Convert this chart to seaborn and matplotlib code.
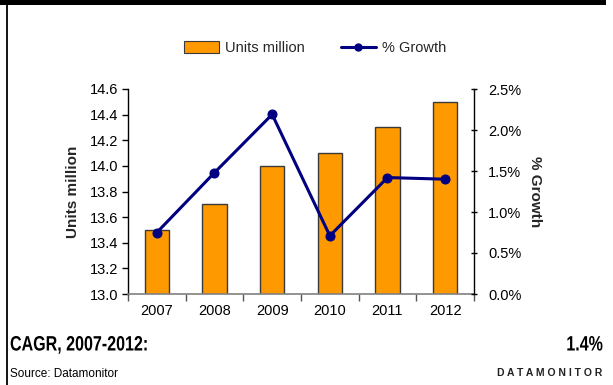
import matplotlib
matplotlib.use("Agg")
import matplotlib.pyplot as plt
from matplotlib.patches import Rectangle, Patch
from matplotlib.lines import Line2D
from matplotlib.patheffects import AbstractPathEffect
from matplotlib.transforms import Affine2D
from matplotlib.ticker import FuncFormatter, FixedLocator, NullFormatter
import seaborn as sns
import pandas as pd

years = ["2007", "2008", "2009", "2010", "2011", "2012"]
units_million = [13.5, 13.7, 14.0, 14.1, 14.3, 14.5]
growth_pct = [0.75, 1.48, 2.19, 0.71, 1.42, 1.40]
cagr_label = "1.4%"

sns.set_theme(style="white")
plt.rcParams["font.family"] = ["Liberation Sans", "DejaVu Sans"]

W, H = 613, 385
DPI = 100
fig = plt.figure(figsize=(W / DPI, H / DPI), dpi=DPI)
fig.patch.set_facecolor("white")


class Narrow(AbstractPathEffect):
    """Compress glyph outlines horizontally about a fixed x (display px)."""

    def __init__(self, sx, x0):
        super().__init__()
        self.sx = sx
        self.x0 = x0

    def draw_path(self, renderer, gc, tpath, affine, rgbFace=None):
        squeeze = Affine2D().translate(-self.x0, 0).scale(self.sx, 1).translate(self.x0, 0)
        renderer.draw_path(gc, tpath, affine + squeeze, rgbFace)


ax = fig.add_axes([128 / W, 1 - 294 / H, (474 - 128) / W, (294 - 89) / H])
ax.set_facecolor("white")

df = pd.DataFrame({"year": years, "units": units_million, "growth": growth_pct})

orange = "#FF9900"
navy = "#000080"
FS = 10.5

sns.barplot(data=df, x="year", y="units", order=years, color=orange,
            width=0.42, edgecolor="#3a3a3a", linewidth=1.0, saturation=1,
            ax=ax)
ax.set_ylim(13.0, 14.6)
ax.set_xlim(-0.5, 5.5)
ax.set_yticks([13.0 + 0.2 * i for i in range(9)])
ax.yaxis.set_major_formatter(FuncFormatter(lambda v, p: f"{v:.1f}"))
ax.set_xlabel("")
ax.set_ylabel("Units million", fontsize=11, fontweight="bold", labelpad=7)

# category labels at centres, tick marks at category boundaries
ax.tick_params(axis="x", which="major", length=0, labelsize=FS, pad=7, colors="black")
ax.xaxis.set_minor_locator(FixedLocator([i - 0.5 for i in range(7)]))
ax.xaxis.set_minor_formatter(NullFormatter())
ax.tick_params(axis="x", which="minor", length=5, width=1, color="#555555",
               direction="out", bottom=True)
ax.tick_params(axis="y", length=4, width=1, direction="out", left=True,
               labelsize=FS, colors="black", pad=3)

for s in ["top", "right"]:
    ax.spines[s].set_visible(False)
ax.spines["left"].set_color("black")
ax.spines["left"].set_linewidth(1.0)
ax.spines["bottom"].set_color("#808080")
ax.spines["bottom"].set_linewidth(1.2)

ax2 = ax.twinx()
xpos = list(range(len(years)))
sns.lineplot(x=xpos, y=growth_pct, color=navy, linewidth=2.2, marker="o",
             markersize=6.5, markeredgecolor=navy, ax=ax2)
ax2.set_ylim(0, 2.5)
ax2.set_xlim(-0.5, 5.5)
ax2.set_yticks([0.5 * i for i in range(6)])
ax2.yaxis.set_major_formatter(FuncFormatter(lambda v, p: f"{v:.1f}%"))
ax2.set_ylabel("% Growth", fontsize=11, fontweight="bold", rotation=270,
               labelpad=15)
ax2.tick_params(axis="y", length=4, width=1, direction="inout", right=True,
                labelsize=FS, colors="black", pad=8)
for s in ["top", "left", "bottom"]:
    ax2.spines[s].set_visible(False)
ax2.spines["right"].set_color("black")
ax2.spines["right"].set_linewidth(1.0)
ax2.grid(False)
ax.grid(False)

# legend above the plot
handles = [
    Patch(facecolor=orange, edgecolor="#3a3a3a", linewidth=0.8, label="Units million"),
    Line2D([0], [0], color=navy, linewidth=2.2, marker="o", markersize=5,
           label="% Growth"),
]
fig.legend(handles=handles, loc="center", bbox_to_anchor=(315 / W, 1 - 48 / H),
           ncol=2, frameon=False, fontsize=FS, handlelength=2.4,
           handleheight=0.85, handletextpad=0.4, columnspacing=2.5)

# frame decorations: black band on top and rule on the left
fig.add_artist(Rectangle((0, 1 - 5 / H), 606 / W, 5 / H, transform=fig.transFigure,
                         facecolor="black", edgecolor="none"))
fig.add_artist(Line2D([7 / W, 7 / W], [0, 1], transform=fig.transFigure,
                      color="black", linewidth=1.3))

# footer: CAGR line in a condensed bold face, source and brand below
fig.text(10 / W, 1 - 345 / H, "CAGR, 2007-2012:", fontsize=15, fontweight="bold",
         ha="left", va="center", color="black",
         path_effects=[Narrow(0.77, 10)])
fig.text(603 / W, 1 - 345 / H, cagr_label, fontsize=15, fontweight="bold",
         ha="right", va="center", color="black",
         path_effects=[Narrow(0.77, 603)])
fig.text(10 / W, 1 - 374 / H, "Source: Datamonitor", fontsize=8.5,
         ha="left", va="center", color="black")
fig.text(602 / W, 1 - 373 / H, " ".join("DATAMONITOR"), fontsize=7.5,
         fontweight="bold", ha="right", va="center", color="#222222")

fig.savefig("out.png", dpi=DPI, facecolor="white")
